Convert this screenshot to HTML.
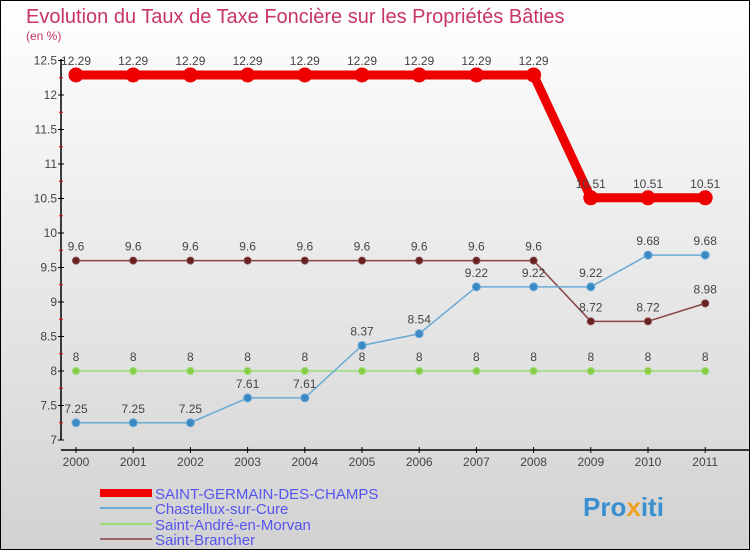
<!DOCTYPE html>
<html><head><meta charset="utf-8"><style>
body{margin:0}
svg{display:block;font-family:"Liberation Sans",sans-serif}
</style></head><body>
<svg id="c" width="750" height="550" viewBox="0 0 750 550">
<defs><linearGradient id="bg" x1="0" y1="0" x2="0" y2="1"><stop offset="0" stop-color="#ffffff"/><stop offset="1" stop-color="#d2d2d2"/></linearGradient></defs>
<rect x="0.5" y="0.5" width="749" height="549" fill="url(#bg)" stroke="#000"/>
<text x="26" y="23" font-size="20" fill="#c8336a">Evolution du Taux de Taxe Foncière sur les Propriétés Bâties</text>
<text x="26" y="40" font-size="12" fill="#c8336a">(en %)</text>
<g id="axes"></g><g id="series"></g>
<g>
<rect x="100" y="489" width="52" height="8" fill="#e00"/>
<text x="155" y="499" font-size="15" fill="#5555ee">SAINT-GERMAIN-DES-CHAMPS</text>
<rect x="100" y="507" width="52" height="2" fill="#6aaad6"/>
<text x="155" y="514" font-size="15" fill="#5555ee">Chastellux-sur-Cure</text>
<rect x="100" y="523" width="52" height="2" fill="#99dd77"/>
<text x="155" y="530" font-size="15" fill="#5555ee">Saint-André-en-Morvan</text>
<rect x="100" y="538" width="52" height="2" fill="#996666"/>
<text x="155" y="545" font-size="15" fill="#5555ee">Saint-Brancher</text>
</g>
<text x="583" y="516" font-size="26" font-weight="bold" fill="#3a8fd0">Pro<tspan fill="#f0a020">x</tspan>iti</text>
</svg>
<script>
const years=[2000,2001,2002,2003,2004,2005,2006,2007,2008,2009,2010,2011];
const yTicks=[7,7.5,8,8.5,9,9.5,10,10.5,11,11.5,12,12.5];
const sgdc=[12.29,12.29,12.29,12.29,12.29,12.29,12.29,12.29,12.29,10.51,10.51,10.51];
const chastellux=[7.25,7.25,7.25,7.61,7.61,8.37,8.54,9.22,9.22,9.22,9.68,9.68];
const andre=[8,8,8,8,8,8,8,8,8,8,8,8];
const brancher=[9.6,9.6,9.6,9.6,9.6,9.6,9.6,9.6,9.6,8.72,8.72,8.98];
const NS="http://www.w3.org/2000/svg";
const xs=i=>76+i*57.2;
const ys=v=>440-(v-7)*69;
function mk(t,a,p){const e=document.createElementNS(NS,t);for(const k in a)e.setAttribute(k,a[k]);p.appendChild(e);return e;}
const ax=document.getElementById('axes');
let e=mk('line',{x1:61,y1:59,x2:61,y2:440,stroke:'#000','stroke-width':1.5},ax);

e=mk('line',{x1:61,y1:450,x2:750,y2:450,stroke:'#000','stroke-width':1.5},ax);

yTicks.forEach((v,i)=>{const y=ys(v);
 mk('line',{x1:58,y1:y,x2:64,y2:y,stroke:'#000'},ax);
 if(i<yTicks.length-1){mk('line',{x1:59,y1:ys(v+0.25),x2:63,y2:ys(v+0.25),stroke:'#e00'},ax);}
 const t=mk('text',{x:57,y:y+4,'font-size':12,fill:'#444','text-anchor':'end'},ax);t.textContent=String(v);
 });
years.forEach((yr,i)=>{const x=xs(i);
 mk('line',{x1:x,y1:447,x2:x,y2:453,stroke:'#000'},ax);
 const t=mk('text',{x:x,y:466,'font-size':12,fill:'#444','text-anchor':'middle'},ax);t.textContent=yr;
 });
const sg=document.getElementById('series');
function series(name,vals,color,w,r,dot){
 const g=mk('g',{},sg);
 const l=mk('polyline',{points:vals.map((v,i)=>xs(i)+','+ys(v)).join(' '),fill:'none',stroke:color,'stroke-width':w,'stroke-linejoin':'round'},g);
 
 vals.forEach((v,i)=>{const c=mk('circle',{cx:xs(i),cy:ys(v),r:r,fill:dot,stroke:color,'stroke-width':1},g);
  
  const t=mk('text',{x:xs(i),y:ys(v)-10,'font-size':12,fill:'#444','text-anchor':'middle'},g);t.textContent=String(v);
  });
}
series('saint-andre',andre,'#99dd77',1.5,3.5,'#88cc44');
series('saint-brancher',brancher,'#884444',1.5,3.5,'#662222');
series('chastellux',chastellux,'#6aaad6',1.5,4,'#3a88c4');
series('saint-germain',sgdc,'#ee0000',9,7,'#ee0000');
</script>
</body></html>
